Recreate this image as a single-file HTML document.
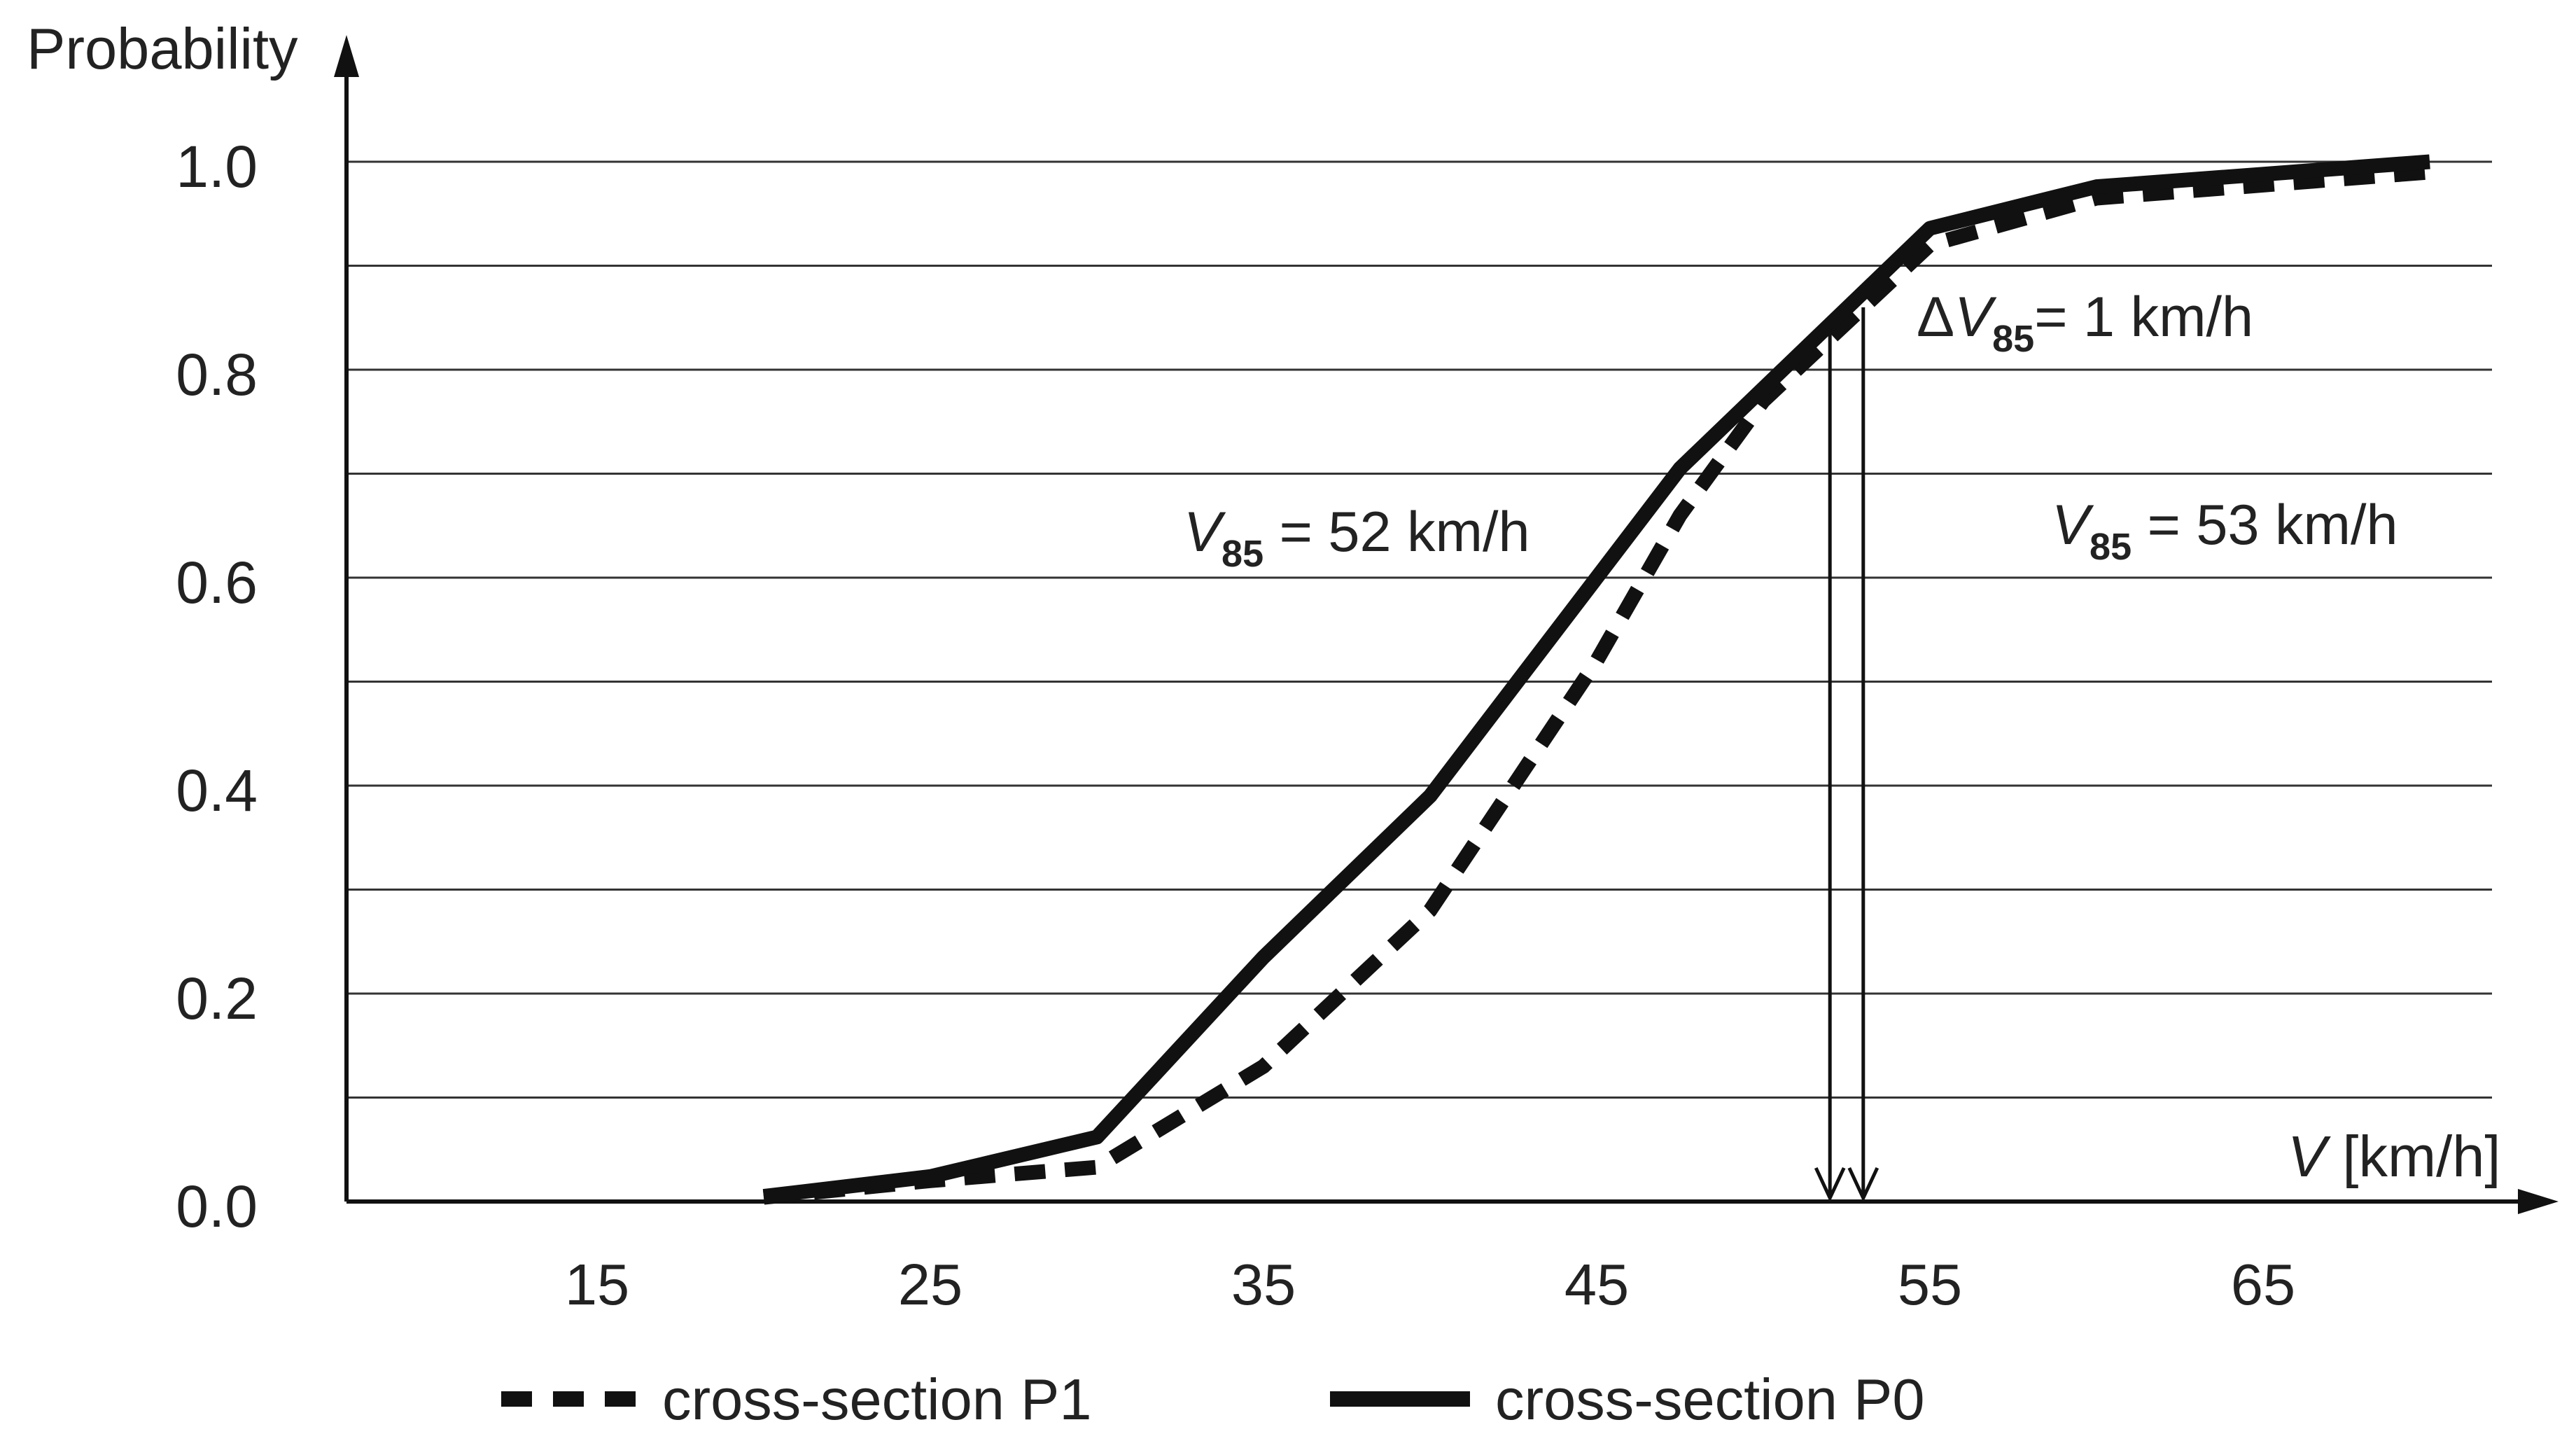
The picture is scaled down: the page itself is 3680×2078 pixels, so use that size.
<!DOCTYPE html>
<html><head><meta charset="utf-8"><style>
html,body{margin:0;padding:0;background:#fff}
svg{display:block}
text{font-family:"Liberation Sans",Arial,sans-serif;fill:#222}
</style></head><body>
<svg id="chart" width="3680" height="2078" viewBox="0 0 3680 2078">
<g id="grid"></g>
<g id="axes">
 <line x1="495" y1="1716" x2="495" y2="100" stroke="#111" stroke-width="6"/>
 <polygon points="495,50 477,110 513,110" fill="#111"/>
 <line x1="495" y1="1716" x2="3600" y2="1716" stroke="#111" stroke-width="6"/>
 <polygon points="3655,1716 3597,1698 3597,1734" fill="#111"/>
</g>
<g id="ticks"></g>
<g id="series"></g>
<g id="arrows"></g>
<text x="38" y="98" font-size="83">Probability</text>
<text x="3268" y="1680" font-size="83"><tspan font-style="italic">V</tspan> [km/h]</text>
<text x="1691" y="787" font-size="81"><tspan font-style="italic">V</tspan><tspan font-size="54" font-weight="bold" dy="22">85</tspan><tspan dy="-22"> = 52 km/h</tspan></text>
<text x="2931" y="777" font-size="81"><tspan font-style="italic">V</tspan><tspan font-size="54" font-weight="bold" dy="22">85</tspan><tspan dy="-22"> = 53 km/h</tspan></text>
<text x="2738" y="480" font-size="81">Δ<tspan font-style="italic">V</tspan><tspan font-size="54" font-weight="bold" dy="22">85</tspan><tspan dy="-22">= 1 km/h</tspan></text>
<g>
 <line x1="716" y1="1998" x2="908" y2="1998" stroke="#111" stroke-width="22" stroke-dasharray="44,30"/>
 <text x="946" y="2027" font-size="83">cross-section P1</text>
 <line x1="1900" y1="1998" x2="2100" y2="1998" stroke="#111" stroke-width="22"/>
 <text x="2136" y="2027" font-size="83">cross-section P0</text>
</g>
</svg>
<script>
const yTicks=[0,0.2,0.4,0.6,0.8,1.0];
const yGrid=[0,0.1,0.2,0.3,0.4,0.5,0.6,0.7,0.8,0.9,1.0];
const xTicks=[15,25,35,45,55,65];
const p0V=[20,25,30,35,40,45,47.5,55,60,70];
const p0P=[0.005,0.024,0.062,0.235,0.39,0.60,0.705,0.936,0.976,1.0];
const p1V=[20,25,30,35,40,45,47.5,50,55,60,70];
const p1P=[0.004,0.02,0.033,0.13,0.28,0.52,0.66,0.77,0.92,0.965,0.99];
const v85=[52,53];
const v85P=[0.84,0.86];
const NS='http://www.w3.org/2000/svg';
const X=v=>853+(v-15)*47.6;
const Y=p=>1716-p*1485;
function mk(tag,attrs,parent){const e=document.createElementNS(NS,tag);for(const k in attrs)e.setAttribute(k,attrs[k]);parent.appendChild(e);return e;}
const grid=document.getElementById('grid');
yGrid.forEach(p=>{if(p===0)return;
 const l=mk('line',{x1:495,x2:3560,y1:Y(p),y2:Y(p),stroke:'#333','stroke-width':3},grid);
 
 
});
const ticks=document.getElementById('ticks');
yTicks.forEach(p=>{const t=mk('text',{x:368,y:Y(p)+36,'text-anchor':'end','font-size':84},ticks);t.textContent=p.toFixed(1);
 
 
});
xTicks.forEach(v=>{const t=mk('text',{x:X(v),y:1863,'text-anchor':'middle','font-size':83},ticks);t.textContent=v;
 
 
});
const series=document.getElementById('series');
const s1=mk('polyline',{points:p1V.map((v,i)=>X(v)+','+Y(p1P[i])).join(' '),fill:'none',stroke:'#111','stroke-width':21,'stroke-dasharray':'44,28'},series);


const s0=mk('polyline',{points:p0V.map((v,i)=>X(v)+','+Y(p0P[i])).join(' '),fill:'none',stroke:'#111','stroke-width':21,'stroke-linejoin':'round'},series);


const arrows=document.getElementById('arrows');
v85.forEach((v,i)=>{const x=X(v);
 const a=mk('path',{d:`M${x},${Y(v85P[i])} L${x},1708 M${x-20},1668 L${x},1711 L${x+20},1668`,fill:'none',stroke:'#111','stroke-width':5},arrows);
 
 
});
</script>
</body></html>
